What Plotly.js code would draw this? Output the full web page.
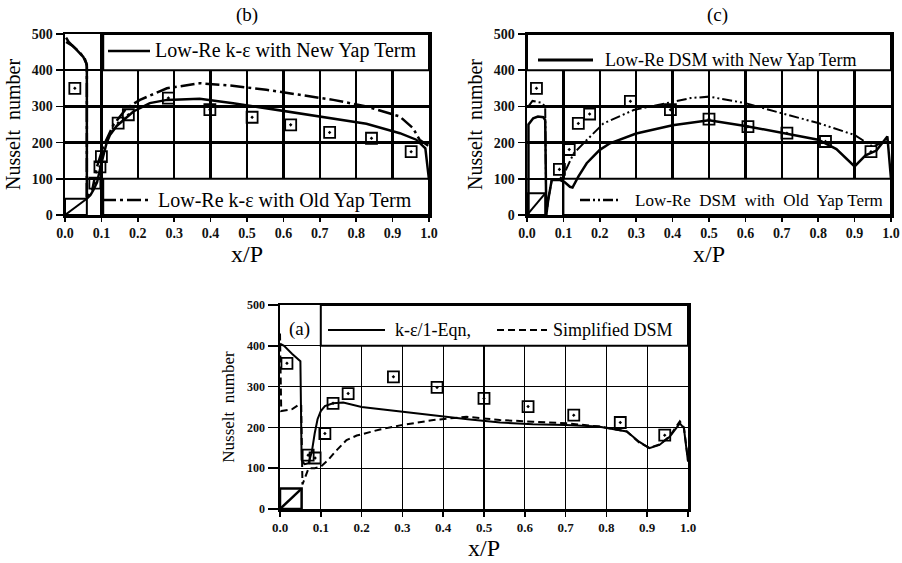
<!DOCTYPE html>
<html><head><meta charset="utf-8">
<script src="https://cdn.plot.ly/plotly-3.0.1.min.js"></script>
<style>html,body{margin:0;padding:0;background:#fff}#chart{width:902px;height:563px}</style>
</head><body><div id="chart"></div>
<script>
// ---- tick values ----
const xTickVals = [0, 0.1, 0.2, 0.3, 0.4, 0.5, 0.6, 0.7, 0.8, 0.9, 1.0];
const yTickVals = [0, 100, 200, 300, 400, 500];

// ---- series names ----
const bNames = ['Low-Re k-ε with New Yap Term', 'Low-Re k-ε with Old Yap Term'];
const cNames = ['Low-Re DSM with New Yap Term', 'Low-Re  DSM  with  Old  Yap Term'];
const aNames = ['k-ε/1-Eqn,', 'Simplified DSM'];

// ---- panel (b) ----
const bNewX = [0.003,0.01,0.03,0.05,0.058,0.06,0.06,0.07,0.078,0.088,0.1,0.114,0.124,0.142,0.188,0.233,0.28,0.37,0.462,0.553,0.645,0.737,0.828,0.92,0.965,0.99,1.0];
const bNewY = [490,478,458,437,420,410,45,55,69,90,143,198,222,246,286,309,318,321,309,295,281,268,252,226,208,184,97];
const bOldX = [0.003,0.02,0.04,0.055,0.06,0.06,0.075,0.087,0.105,0.133,0.169,0.206,0.28,0.37,0.46,0.553,0.645,0.737,0.828,0.92,0.956,0.974,1.0];
const bOldY = [478,468,450,430,415,45,70,130,189,249,295,318,350,364,357,346,332,318,300,272,240,208,190];
const bExpX = [0.027,0.082,0.096,0.1,0.146,0.174,0.284,0.398,0.514,0.62,0.727,0.842,0.951];
const bExpY = [350,88,133,161,254,277,323,291,270,249,228,212,175];

// ---- panel (c) ----
const cNewX = [0.004,0.004,0.017,0.03,0.045,0.05,0.053,0.058,0.068,0.09,0.104,0.118,0.125,0.141,0.164,0.2,0.228,0.3,0.4,0.5,0.6,0.7,0.8,0.85,0.9,0.93,0.96,0.99,1.0];
const cNewY = [0,250,267,272,270,262,0,40,97,97,90,78,76,106,143,180,198,225,248,262,246,226,208,182,134,165,178,217,100];
const cOldX = [0.004,0.015,0.04,0.05,0.053,0.058,0.068,0.09,0.1,0.128,0.164,0.21,0.293,0.38,0.45,0.5,0.6,0.7,0.8,0.9,0.95,0.99];
const cOldY = [300,315,310,300,0,40,97,100,110,170,207,253,290,309,323,327,309,281,254,221,189,205];
const cExpX = [0.026,0.089,0.116,0.141,0.172,0.284,0.394,0.5,0.607,0.714,0.82,0.945];
const cExpY = [350,126,181,253,279,314,291,265,244,226,203,175];

// ---- panel (a) ----
const aKeX = [0.0,0.01,0.03,0.045,0.05,0.053,0.06,0.07,0.078,0.085,0.092,0.1,0.11,0.13,0.155,0.2,0.3,0.38,0.46,0.54,0.62,0.7,0.78,0.85,0.88,0.905,0.93,0.955,0.98,0.99,1.0];
const aKeY = [405,400,380,365,362,120,110,112,140,185,220,240,252,259,261,250,238,228,220,212,208,206,202,190,165,149,157,177,210,198,116];
const aDsmX = [0.0,0.003,0.03,0.045,0.052,0.055,0.07,0.085,0.1,0.118,0.135,0.163,0.188,0.245,0.294,0.335,0.376,0.457,0.539,0.62,0.702,0.784,0.85,0.88,0.905,0.93,0.955,0.98,0.99,1.0];
const aDsmY = [430,240,245,255,255,60,100,100,104,120,140,169,180,195,205,212,218,226,218,214,210,202,190,163,150,158,178,215,200,120];
const aExpX = [0.017,0.069,0.086,0.11,0.13,0.167,0.278,0.385,0.5,0.608,0.72,0.834,0.943];
const aExpY = [357,132,125,185,259,283,324,298,271,251,230,212,181];

// ---- rib sizes (b, c, a) ----
const ribW = [0.06, 0.05, 0.053];
const ribH = [45, 60, 50];

const FONT = 'Liberation Serif, Times New Roman, serif';
const DASH_B_OLD = '14px,4px,3px,4px';
const DASH_C_OLD = '10px,3px,2px,3px,2px,3px';
const DASH_A_DSM = '7px,4px';

function rib(i, xa, ya, w) {
  const Wd = ribW[i], Ht = ribH[i];
  return {x:[0,Wd,Wd,0,0,null,0,Wd], y:[0,0,Ht,Ht,0,null,0,Ht], xaxis:xa, yaxis:ya,
    mode:'lines', line:{color:'#000', width:w}, showlegend:false, hoverinfo:'skip', cliponaxis:false};
}
function exp(x, y, xa, ya) {
  return {x:x, y:y, xaxis:xa, yaxis:ya, mode:'markers', showlegend:false, cliponaxis:false,
    marker:{symbol:'square-open-dot', size:11, color:'#000', line:{color:'#000', width:1.8}}};
}

const traces = [
  {x:bNewX, y:bNewY, xaxis:'x', yaxis:'y', mode:'lines', name:bNames[0], line:{color:'#000', width:2.5}},
  {x:bOldX, y:bOldY, xaxis:'x', yaxis:'y', mode:'lines', name:bNames[1], line:{color:'#000', width:2.5, dash:DASH_B_OLD}},
  exp(bExpX, bExpY, 'x', 'y'),
  rib(0, 'x', 'y', 2),
  {x:cNewX, y:cNewY, xaxis:'x2', yaxis:'y2', mode:'lines', name:cNames[0], line:{color:'#000', width:2.5}},
  {x:cOldX, y:cOldY, xaxis:'x2', yaxis:'y2', mode:'lines', name:cNames[1], line:{color:'#000', width:2, dash:DASH_C_OLD}},
  exp(cExpX, cExpY, 'x2', 'y2'),
  rib(1, 'x2', 'y2', 2),
  {x:aKeX, y:aKeY, xaxis:'x3', yaxis:'y3', mode:'lines', name:aNames[0], line:{color:'#000', width:2}},
  {x:aDsmX, y:aDsmY, xaxis:'x3', yaxis:'y3', mode:'lines', name:aNames[1], line:{color:'#000', width:2, dash:DASH_A_DSM}},
  exp(aExpX, aExpY, 'x3', 'y3'),
  rib(2, 'x3', 'y3', 2.5)
];

function xax(domain, anchor, gw, fs, tl, titleSize, standoff) {
  return {domain:domain, anchor:anchor, range:[0,1], tickvals:xTickVals, tickformat:'.1f',
    showgrid:true, gridcolor:'#000', gridwidth:gw, zeroline:false,
    showline:true, linecolor:'#000', linewidth:2.5, mirror:true,
    ticks:'outside', ticklen:tl, tickwidth:1.5, tickcolor:'#000',
    tickfont:{family:FONT, size:fs, color:'#111', weight:'bold'},
    title:{text:'x/P', font:{family:FONT, size:titleSize, color:'#000'}, standoff:standoff}};
}
function yax(domain, anchor, gw, fs, tl, titleSize, standoff) {
  return {domain:domain, anchor:anchor, range:[0,500], tickvals:yTickVals,
    showgrid:true, gridcolor:'#000', gridwidth:gw, zeroline:false,
    showline:true, linecolor:'#000', linewidth:2.5, mirror:true,
    ticks:'outside', ticklen:tl, tickwidth:1.5, tickcolor:'#000',
    tickfont:{family:FONT, size:fs, color:'#111', weight:'bold'},
    title:{text:'Nusselt  number', font:{family:FONT, size:titleSize, color:'#000'}, standoff:standoff}};
}

const W = 902, H = 563;
const px = v => v / W, py = v => 1 - v / H;

function box(xa, ya, x0, x1, y0, y1) {
  return {type:'rect', xref:xa, yref:ya, x0:x0, x1:x1, y0:y0, y1:y1,
    fillcolor:'#fff', line:{color:'#000', width:2}, layer:'between'};
}
function sample(x0, x1, y, dash, w) {
  return {type:'line', xref:'paper', yref:'paper', x0:px(x0), x1:px(x1), y0:py(y), y1:py(y),
    line:{color:'#000', width:w || 2.5, dash:dash || 'solid'}, layer:'above'};
}
function label(text, x, y, size) {
  return {text:text, xref:'paper', yref:'paper', x:px(x), y:py(y), xanchor:'left', yanchor:'middle',
    showarrow:false, font:{family:FONT, size:size, color:'#000'}};
}

const layout = {
  width:W, height:H, margin:{l:0, r:0, t:0, b:0}, paper_bgcolor:'#fff', plot_bgcolor:'#fff',
  showlegend:false,
  xaxis: xax([px(65), px(429)], 'y', 2.5, 14, 4, 24, 0),
  yaxis: yax([py(215), py(34)], 'x', 2.5, 14, 7, 20, 6),
  xaxis2: xax([px(527), px(891)], 'y2', 2.5, 14, 4, 24, 0),
  yaxis2: yax([py(215), py(34)], 'x2', 2.5, 14, 7, 20, 6),
  xaxis3: xax([px(280), px(688)], 'y3', 1.3, 13, 5, 24, 0),
  yaxis3: yax([py(509), py(305)], 'x3', 1.3, 12, 10, 17, 8),
  shapes: [
    box('x', 'y', 0.105, 1, 400, 500),
    box('x', 'y', 0.105, 1, 0, 100),
    box('x2', 'y2', 0, 1, 400, 500),
    box('x2', 'y2', 0.1, 1, 0, 100),
    box('x3', 'y3', 0.1, 1, 400, 500),
    sample(108, 150, 51),
    sample(102, 152, 200, DASH_B_OLD),
    sample(538, 593, 60, 'solid', 3),
    sample(580, 620, 200, DASH_C_OLD),
    sample(328, 385, 330, 'solid', 2),
    sample(497, 547, 330, DASH_A_DSM, 2)
  ],
  annotations: [
    {text:'(b)', xref:'paper', yref:'paper', x:px(247), y:py(15), xanchor:'center', yanchor:'middle',
     showarrow:false, font:{family:FONT, size:19, color:'#000'}},
    {text:'(c)', xref:'paper', yref:'paper', x:px(717), y:py(15), xanchor:'center', yanchor:'middle',
     showarrow:false, font:{family:FONT, size:19, color:'#000'}},
    {text:'(a)', xref:'paper', yref:'paper', x:px(299), y:py(329), xanchor:'center', yanchor:'middle',
     showarrow:false, font:{family:FONT, size:19, color:'#000'}},
    label(bNames[0], 153, 51, 20),
    label(bNames[1], 156, 200, 20),
    label(cNames[0], 603, 60, 18),
    label(cNames[1], 633, 200, 17),
    label(aNames[0], 393, 330, 18),
    label(aNames[1], 551, 330, 18)
  ]
};

Plotly.newPlot('chart', traces, layout, {staticPlot:true, displayModeBar:false});
</script>
</body></html>
